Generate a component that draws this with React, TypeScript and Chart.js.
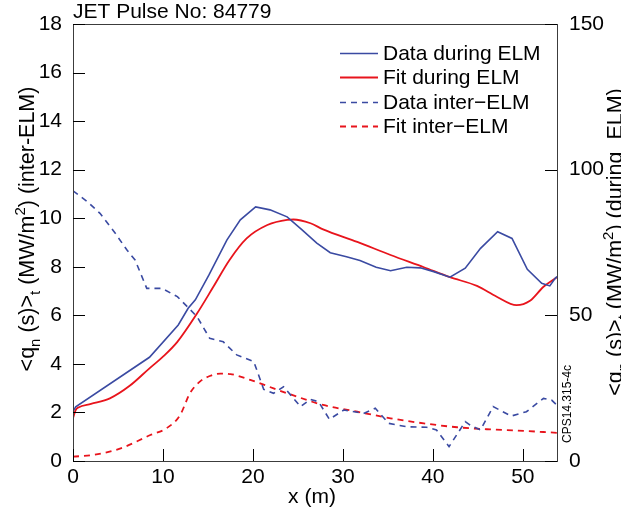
import React, { useEffect, useRef } from "react";
import { Chart, registerables } from "chart.js";

Chart.register(...registerables);

// ---------- Data ----------
// Data during ELM (right axis, MW/m^2)
const xDuringData = [0, 0.3, 8.5, 11.7, 12.8, 13.6, 15.1, 17.1, 18.6, 20.3, 21.9, 23.8, 25.4, 27.1, 28.6, 30.4, 31.9, 33.7, 35.3, 37.1, 38.6, 40.1, 41.9, 43.6, 45.3, 47.2, 48.8, 50.5, 52.1, 53.0, 53.6, 53.8];
const yDuringData = [17.0, 18.6, 35.6, 46.7, 52.4, 55.3, 63.8, 75.8, 82.8, 87.2, 86.2, 83.8, 79.5, 74.8, 71.5, 70.1, 68.8, 66.5, 65.3, 66.5, 66.3, 65.0, 63.1, 66.2, 73.0, 78.7, 76.4, 65.8, 61.0, 60.1, 62.7, 63.3];

// Fit during ELM (right axis, MW/m^2)
const xDuringFit = [0, 0.3, 0.6, 2, 4.1, 6.3, 8.5, 10, 11.6, 13.8, 15.6, 17.4, 19.3, 21.6, 23.8, 24.5, 26.4, 27.8, 31.6, 35.3, 39, 41.9, 44.9, 47.1, 49.3, 50.8, 52.3, 53.8];
const yDuringFit = [14.7, 17.5, 18.4, 19.6, 21.5, 25.8, 31.8, 35.8, 40.9, 50.7, 59.8, 69.0, 76.4, 81.0, 82.8, 82.9, 81.6, 79.5, 75.2, 70.7, 66.5, 63.1, 60.1, 56.4, 53.5, 55.0, 59.8, 63.1];

// Data inter-ELM (left axis, MW/m^2)
const xInterData = [0, 1.6, 3, 4.7, 6, 6.9, 8.2, 9.9, 11.6, 12.7, 13.8, 15.2, 16.7, 18.2, 20.1, 21.2, 22.3, 23.4, 25.3, 26.4, 27.3, 28.5, 30.1, 32.3, 33.6, 35.1, 37.1, 39.3, 40.4, 41.8, 43.6, 44.3, 45.3, 46.7, 48.7, 50.4, 52.3, 53.2, 53.8];
const yInterData = [11.13, 10.68, 10.2, 9.38, 8.69, 8.28, 7.11, 7.11, 6.77, 6.36, 5.94, 5.05, 4.91, 4.37, 4.09, 2.95, 2.79, 3.06, 2.24, 2.54, 2.44, 1.72, 2.1, 1.96, 2.17, 1.55, 1.41, 1.39, 1.28, 0.59, 1.62, 1.44, 1.28, 2.24, 1.85, 2.03, 2.58, 2.51, 2.3];

// Fit inter-ELM (left axis, MW/m^2)
const xInterFit = [0, 2.3, 5.3, 8.6, 10.4, 11.9, 13, 14.1, 15.2, 16.4, 17.5, 19.7, 22.3, 24.5, 27.8, 31.6, 35.3, 39, 42.7, 46.4, 50.1, 53.8];
const yInterFit = [0.18, 0.25, 0.52, 1.07, 1.35, 1.89, 2.79, 3.27, 3.5, 3.6, 3.58, 3.34, 2.99, 2.7, 2.31, 2.03, 1.76, 1.55, 1.39, 1.3, 1.24, 1.16];

const legendLabels = ["Data during ELM", "Fit during ELM", "Data inter\u2212ELM", "Fit inter\u2212ELM"];
const titleText = "JET Pulse No: 84779";
const xTitle = "x (m)";
const stampText = "CPS14.315-4c";

const BLUE = "#3a4aa2";
const RED = "#e8141c";
const FONT = '"Liberation Sans", Arial, Helvetica, sans-serif';

type Part = { t: string; m: "n" | "sub" | "sup" };
const leftTitle: Part[] = [
  { t: "<q", m: "n" }, { t: "n", m: "sub" }, { t: " (s)>", m: "n" }, { t: "t", m: "sub" },
  { t: " (MW/m", m: "n" }, { t: "2", m: "sup" }, { t: ") (inter-ELM)", m: "n" },
];
const rightTitle: Part[] = [
  { t: "<q", m: "n" }, { t: "n", m: "sub" }, { t: " (s)>", m: "n" }, { t: "t", m: "sub" },
  { t: " (MW/m", m: "n" }, { t: "2", m: "sup" }, { t: ") (during  ELM)", m: "n" },
];

const pts = (xs: number[], ys: number[]) => xs.map((x, i) => ({ x, y: ys[i] }));

function drawRich(ctx: CanvasRenderingContext2D, parts: Part[], cx: number, cy: number, size: number, rot: number) {
  ctx.save();
  ctx.translate(cx, cy);
  ctx.rotate(rot);
  const fontFor = (m: string) => `${m === "n" ? size : Math.round(size * 0.68)}px ${FONT}`;
  let total = 0;
  for (const p of parts) {
    ctx.font = fontFor(p.m);
    total += ctx.measureText(p.t).width;
  }
  let x = -total / 2;
  ctx.textBaseline = "alphabetic";
  ctx.textAlign = "left";
  ctx.fillStyle = "#000";
  for (const p of parts) {
    ctx.font = fontFor(p.m);
    const dy = p.m === "sub" ? size * 0.28 : p.m === "sup" ? -size * 0.42 : 0;
    ctx.fillText(p.t, x, dy);
    x += ctx.measureText(p.t).width;
  }
  ctx.restore();
}

const decorPlugin = {
  id: "decor",
  beforeDraw(chart: any) {
    const ctx = chart.ctx;
    ctx.save();
    ctx.fillStyle = "#fff";
    ctx.fillRect(0, 0, chart.width, chart.height);
    ctx.restore();
  },
  afterDraw(chart: any) {
    const ctx: CanvasRenderingContext2D = chart.ctx;
    const a = chart.chartArea;
    const sx = chart.scales.x, sy = chart.scales.y, sy2 = chart.scales.y2;
    ctx.save();
    // frame
    ctx.strokeStyle = "#3c3c3c";
    ctx.lineWidth = 1;
    ctx.strokeRect(Math.round(a.left) + 0.5, Math.round(a.top) + 0.5, Math.round(a.right - a.left), Math.round(a.bottom - a.top));
    // inward ticks
    const TL = 12;
    ctx.strokeStyle = "#000";
    ctx.beginPath();
    for (const t of sy.ticks) {
      const y = Math.round(sy.getPixelForValue(t.value)) + 0.5;
      ctx.moveTo(a.left, y);
      ctx.lineTo(a.left + TL, y);
    }
    for (const t of sy2.ticks) {
      const y = Math.round(sy2.getPixelForValue(t.value)) + 0.5;
      ctx.moveTo(a.right, y);
      ctx.lineTo(a.right - TL, y);
    }
    for (const t of sx.ticks) {
      const x = Math.round(sx.getPixelForValue(t.value)) + 0.5;
      ctx.moveTo(x, a.bottom);
      ctx.lineTo(x, a.bottom - TL);
    }
    ctx.stroke();

    // title
    ctx.fillStyle = "#000";
    ctx.font = `21px ${FONT}`;
    ctx.textAlign = "left";
    ctx.textBaseline = "alphabetic";
    ctx.fillText(titleText, a.left, 18);

    // x title
    ctx.textAlign = "center";
    ctx.textBaseline = "middle";
    ctx.fillText(xTitle, 312, 497);

    // y titles
    drawRich(ctx, leftTitle, 34, 229, 21.5, -Math.PI / 2);
    drawRich(ctx, rightTitle, 622, 242, 21.5, -Math.PI / 2);

    // stamp
    ctx.save();
    ctx.translate(571, 404);
    ctx.rotate(-Math.PI / 2);
    ctx.font = `12px ${FONT}`;
    ctx.textAlign = "center";
    ctx.textBaseline = "alphabetic";
    ctx.fillStyle = "#000";
    ctx.fillText(stampText, 0, 0);
    ctx.restore();

    // legend
    const rows = [53, 77, 102, 126];
    const ds = chart.data.datasets;
    ctx.font = `21px ${FONT}`;
    ctx.textAlign = "left";
    ctx.textBaseline = "middle";
    rows.forEach((ry, i) => {
      const d = ds[i];
      ctx.save();
      ctx.strokeStyle = d.borderColor;
      ctx.lineWidth = d.borderWidth;
      ctx.setLineDash(d.borderDash || []);
      ctx.beginPath();
      ctx.moveTo(340, ry + 0.5);
      ctx.lineTo(378, ry + 0.5);
      ctx.stroke();
      ctx.restore();
      ctx.fillStyle = "#000";
      ctx.fillText(legendLabels[i], 383, ry + 1);
    });
    ctx.restore();
  },
};

export default function App() {
  const ref = useRef<HTMLCanvasElement | null>(null);
  useEffect(() => {
    if (!ref.current) return;
    const tickFont = { family: FONT, size: 21 };
    const chart = new Chart(ref.current, {
      type: "line",
      data: {
        datasets: [
          { label: legendLabels[0], data: pts(xDuringData, yDuringData), yAxisID: "y2", borderColor: BLUE, borderWidth: 1.6, pointRadius: 0, tension: 0, fill: false },
          { label: legendLabels[1], data: pts(xDuringFit, yDuringFit), yAxisID: "y2", borderColor: RED, borderWidth: 1.8, pointRadius: 0, cubicInterpolationMode: "monotone", fill: false },
          { label: legendLabels[2], data: pts(xInterData, yInterData), yAxisID: "y", borderColor: BLUE, borderWidth: 1.6, borderDash: [6, 5], pointRadius: 0, tension: 0, fill: false },
          { label: legendLabels[3], data: pts(xInterFit, yInterFit), yAxisID: "y", borderColor: RED, borderWidth: 1.8, borderDash: [6, 5], pointRadius: 0, cubicInterpolationMode: "monotone", fill: false },
        ],
      },
      options: {
        responsive: false,
        animation: false,
        devicePixelRatio: 1,
        layout: { padding: { top: 24, left: 0, right: 0, bottom: 0 } },
        plugins: { legend: { display: false }, tooltip: { enabled: false }, title: { display: false } },
        scales: {
          x: {
            type: "linear", position: "bottom", min: 0, max: 53.8,
            grid: { display: false }, border: { display: false },
            ticks: { stepSize: 10, includeBounds: false, font: tickFont, color: "#000", padding: -4, maxRotation: 0 },
            afterFit: (s: any) => { s.height = 56; },
          },
          y: {
            type: "linear", position: "left", min: 0, max: 18,
            grid: { display: false }, border: { display: false },
            ticks: { stepSize: 2, font: tickFont, color: "#000", padding: 3 },
            afterFit: (s: any) => { s.width = 73; },
          },
          y2: {
            type: "linear", position: "right", min: 0, max: 150,
            grid: { display: false }, border: { display: false },
            ticks: { stepSize: 50, font: tickFont, color: "#000", padding: 4 },
            afterFit: (s: any) => { s.width = 64; },
          },
        },
      } as any,
      plugins: [decorPlugin],
    });
    return () => chart.destroy();
  }, []);
  return (
    <div style={{ position: "fixed", left: 0, top: 0, width: 621, height: 517, background: "#fff" }}>
      <canvas ref={ref} width={621} height={517} />
    </div>
  );
}
